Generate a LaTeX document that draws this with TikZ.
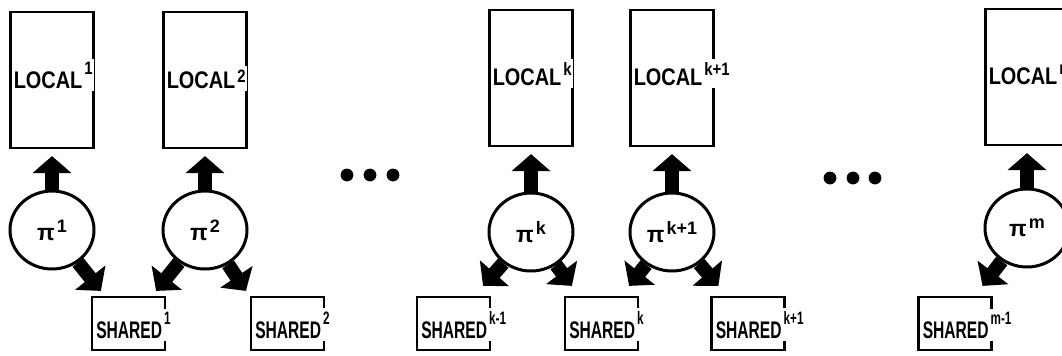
\documentclass[tikz,border=0pt]{standalone}
\usepackage{fontspec}
\usepackage{tikz}
\usetikzlibrary{arrows.meta, shapes.geometric}

\newfontfamily\letterfont[FakeStretch=0.83]{Liberation Sans}
\newfontfamily\narrowfont[FakeStretch=0.65]{Liberation Sans}
\newfontfamily\greekfont{Liberation Sans}
% raised index after a store or process name
\newcommand{\upidx}[2][7pt]{\kern1pt\raisebox{#1}{\fontsize{9}{9}\selectfont #2}}

\begin{document}
\begin{tikzpicture}[x=0.5pt, y=-0.5pt,
    localbox/.style={draw, line width=1.1pt, minimum width=41.5pt, minimum height=68pt, inner sep=0pt},
    sharedbox/.style={draw, line width=1.1pt, minimum width=36.5pt, minimum height=26.5pt, inner sep=0pt},
    proc/.style={draw, ellipse, line width=1.5pt, minimum width=42pt, minimum height=39pt, inner sep=0pt,
        font=\greekfont\bfseries\fontsize{11.5}{11.5}\selectfont},
    flow/.style={line width=7pt, -{Triangle[width=19pt, length=8.5pt]}},
    toloc/.style={flow, shorten >=3.5pt},
    localtag/.style={anchor=base west, fill=white, inner xsep=0.5pt, inner ysep=1.5pt,
        font=\letterfont\bfseries\fontsize{12}{12}\selectfont},
    sharedtag/.style={localtag, font=\narrowfont\bfseries\fontsize{12}{12}\selectfont}]
    \useasboundingbox (0,0) rectangle (1062,355);

    % local stores
    \node[localbox] (loc1) at (52,80) {};
    \node[localbox] (loc2) at (205,80) {};
    \node[localbox] (lock) at (531,78) {};
    \node[localbox] (lockp) at (672,78) {};
    \node[localbox] (locm) at (1027,77) {};
    \node[localtag] at ([shift={(3,8)}]loc1.west) {LOCAL\upidx{1}};
    \node[localtag] at ([shift={(3,8)}]loc2.west) {LOCAL\upidx[3pt]{2}};
    \node[localtag] at ([shift={(3,7)}]lock.west) {LOCAL\upidx[5pt]{k}};
    \node[localtag] at ([shift={(3,7)}]lockp.west) {LOCAL\upidx[5pt]{k+1}};
    \node[localtag] at ([shift={(3,7)}]locm.west) {LOCAL\upidx[5pt]{m}};

    % shared stores
    \node[sharedbox] (sh1) at (128.5,323.5) {};
    \node[sharedbox] (sh2) at (287.5,323.5) {};
    \node[sharedbox] (shkm) at (453.5,323.5) {};
    \node[sharedbox] (shk) at (601.5,323.5) {};
    \node[sharedbox] (shkp) at (748,323.5) {};
    \node[sharedbox] (shmm) at (955,323.5) {};
    \node[sharedtag] at ([shift={(4,14.5)}]sh1.west) {SHARED\upidx{1}};
    \node[sharedtag] at ([shift={(4,14.5)}]sh2.west) {SHARED\upidx{2}};
    \node[sharedtag] at ([shift={(4,14.5)}]shkm.west) {SHARED\upidx{k-1}};
    \node[sharedtag] at ([shift={(4,14.5)}]shk.west) {SHARED\upidx{k}};
    \node[sharedtag] at ([shift={(4,14.5)}]shkp.west) {SHARED\upidx{k+1}};
    \node[sharedtag] at ([shift={(4,14.5)}]shmm.west) {SHARED\upidx{m-1}};

    % processes
    \node[proc] (pi1) at (52,230) {π\upidx[4pt]{1}};
    \node[proc] (pi2) at (205,230) {π\upidx[4pt]{2}};
    \node[proc] (pik) at (531,232) {π\upidx[4pt]{k}};
    \node[proc] (pikp) at (672,232) {π\upidx[4pt]{k+1}};
    \node[proc] (pim) at (1027,228) {π\upidx[4pt]{m}};

    % each process reaches its own local store
    \draw[toloc] (pi1) -- (loc1);
    \draw[toloc] (pi2) -- (loc2);
    \draw[toloc] (pik) -- (lock);
    \draw[toloc] (pikp) -- (lockp);
    \draw[toloc] (pim) -- (locm);

    % and the shared stores on either side
    \draw[flow] (pi1) -- ([shift={(10,-5)}]sh1.north west);
    \draw[flow] (pi2) -- ([shift={(-10,-5)}]sh1.north east);
    \draw[flow] (pi2) -- ([shift={(-4,-5)}]sh2.north west);
    \draw[flow] (pik) -- ([shift={(-8,-10)}]shkm.north east);
    \draw[flow] (pik) -- ([shift={(8,-10)}]shk.north west);
    \draw[flow] (pikp) -- ([shift={(-10,-10)}]shk.north east);
    \draw[flow] (pikp) -- ([shift={(8,-10)}]shkp.north west);
    \draw[flow] (pim) -- ([shift={(-10,-10)}]shmm.north east);

    % elided processes
    \foreach \dx in {347,370,393} \fill (\dx,175) circle (3.2pt);
    \foreach \dx in {830,853,875} \fill (\dx,178) circle (3.2pt);
\end{tikzpicture}
\end{document}
